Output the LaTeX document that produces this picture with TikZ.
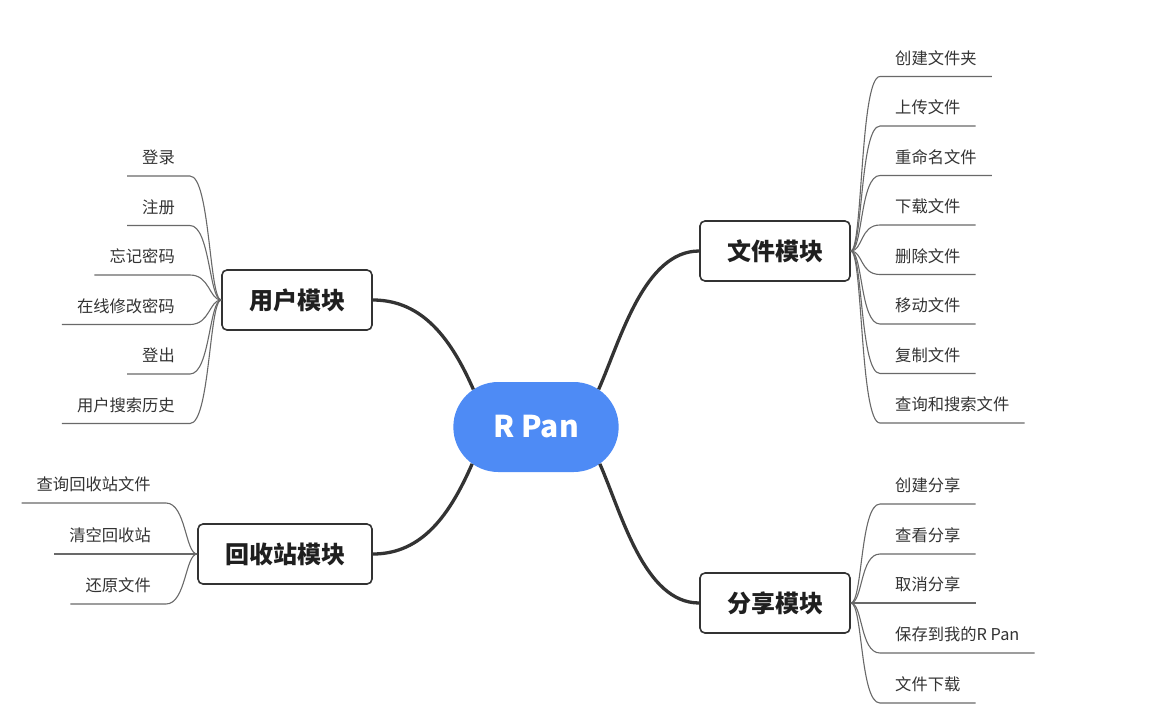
\documentclass[tikz,border=0pt]{standalone}
\usepackage{fontspec}
\setmainfont{Noto Sans CJK SC}
\usepackage{tikz}
\usetikzlibrary{shapes.misc}
\usepackage{xcolor}
\definecolor{panblue}{RGB}{78,139,245}
\definecolor{inkgray}{RGB}{51,51,51}
\definecolor{twiggray}{RGB}{105,105,105}

\begin{document}
\begin{tikzpicture}[x=1pt, y=-1pt,
  every node/.style={font=\fontsize{16.3}{19}\selectfont},
  root/.style={rounded rectangle, fill=panblue, text=white, minimum width=172pt, minimum height=90pt, font=\fontsize{30}{36}\selectfont\bfseries},
  module/.style={draw=inkgray, line width=1.6pt, fill=white, rounded corners=5pt, minimum height=60pt, inner xsep=27pt, text=black!88, font=\fontsize{24}{28}\selectfont\bfseries},
  leaf/.style={text=inkgray, inner xsep=15pt, inner ysep=12pt, text height=12pt, text depth=0pt},
  leafR/.style={leaf, anchor=south west},
  leafL/.style={leaf, anchor=south east},
  branch/.style={draw=inkgray, line width=3.3pt},
  twig/.style={draw=twiggray, line width=1.1pt},
]
\useasboundingbox (0,0) rectangle (1171,724);

% centre and modules
\node[root] (rpan) at (536,427) {R Pan};
\node[module] (user) at (297,300) {用户模块};
\node[module] (bin) at (285,554) {回收站模块};
\node[module] (file) at (775,251) {文件模块};
\node[module] (share) at (775,603) {分享模块};

\draw[branch] (rpan.149) .. controls +(-22,-50) and +(50,0) .. (user.east);
\draw[branch] (rpan.210) .. controls +(-22,50) and +(50,0) .. (bin.east);
\draw[branch] (rpan.31) .. controls +(22,-50) and +(-55,0) .. (file.west);
\draw[branch] (rpan.330) .. controls +(22,50) and +(-55,0) .. (share.west);

% file module
\node[leafR] (f1) at (880,76.5) {创建文件夹};
\node[leafR] (f2) at (880,126) {上传文件};
\node[leafR] (f3) at (880,175.5) {重命名文件};
\node[leafR] (f4) at (880,225) {下载文件};
\node[leafR] (f5) at (880,274.5) {删除文件};
\node[leafR] (f6) at (880,324) {移动文件};
\node[leafR] (f7) at (880,373.5) {复制文件};
\node[leafR] (f8) at (880,423) {查询和搜索文件};
\draw[twig] (file.east) .. controls +(12,0) and +(-20,0) .. (f1.south west) -- (f1.south east);
\draw[twig] (file.east) .. controls +(12,0) and +(-20,0) .. (f2.south west) -- (f2.south east);
\draw[twig] (file.east) .. controls +(12,0) and +(-20,0) .. (f3.south west) -- (f3.south east);
\draw[twig] (file.east) .. controls +(12,0) and +(-20,0) .. (f4.south west) -- (f4.south east);
\draw[twig] (file.east) .. controls +(12,0) and +(-20,0) .. (f5.south west) -- (f5.south east);
\draw[twig] (file.east) .. controls +(12,0) and +(-20,0) .. (f6.south west) -- (f6.south east);
\draw[twig] (file.east) .. controls +(12,0) and +(-20,0) .. (f7.south west) -- (f7.south east);
\draw[twig] (file.east) .. controls +(12,0) and +(-20,0) .. (f8.south west) -- (f8.south east);

% share module
\node[leafR] (s1) at (880,504) {创建分享};
\node[leafR] (s2) at (880,554) {查看分享};
\node[leafR] (s3) at (880,603) {取消分享};
\node[leafR] (s4) at (880,653) {保存到我的R Pan};
\node[leafR] (s5) at (880,703) {文件下载};
\draw[twig] (share.east) .. controls +(12,0) and +(-20,0) .. (s1.south west) -- (s1.south east);
\draw[twig] (share.east) .. controls +(12,0) and +(-20,0) .. (s2.south west) -- (s2.south east);
\draw[twig] (share.east) .. controls +(12,0) and +(-20,0) .. (s3.south west) -- (s3.south east);
\draw[twig] (share.east) .. controls +(12,0) and +(-20,0) .. (s4.south west) -- (s4.south east);
\draw[twig] (share.east) .. controls +(12,0) and +(-20,0) .. (s5.south west) -- (s5.south east);

% user module
\node[leafL] (u1) at (190,176) {登录};
\node[leafL] (u2) at (190,225.5) {注册};
\node[leafL] (u3) at (190,275) {忘记密码};
\node[leafL] (u4) at (190,324.5) {在线修改密码};
\node[leafL] (u5) at (190,374) {登出};
\node[leafL] (u6) at (190,423.5) {用户搜索历史};
\draw[twig] (user.west) .. controls +(-12,0) and +(20,0) .. (u1.south east) -- (u1.south west);
\draw[twig] (user.west) .. controls +(-12,0) and +(20,0) .. (u2.south east) -- (u2.south west);
\draw[twig] (user.west) .. controls +(-12,0) and +(20,0) .. (u3.south east) -- (u3.south west);
\draw[twig] (user.west) .. controls +(-12,0) and +(20,0) .. (u4.south east) -- (u4.south west);
\draw[twig] (user.west) .. controls +(-12,0) and +(20,0) .. (u5.south east) -- (u5.south west);
\draw[twig] (user.west) .. controls +(-12,0) and +(20,0) .. (u6.south east) -- (u6.south west);

% recycle bin module
\node[leafL] (b1) at (166,503) {查询回收站文件};
\node[leafL] (b2) at (166,554) {清空回收站};
\node[leafL] (b3) at (166,604) {还原文件};
\draw[twig] (bin.west) .. controls +(-12,0) and +(20,0) .. (b1.south east) -- (b1.south west);
\draw[twig] (bin.west) .. controls +(-12,0) and +(20,0) .. (b2.south east) -- (b2.south west);
\draw[twig] (bin.west) .. controls +(-12,0) and +(20,0) .. (b3.south east) -- (b3.south west);
\end{tikzpicture}
\end{document}
